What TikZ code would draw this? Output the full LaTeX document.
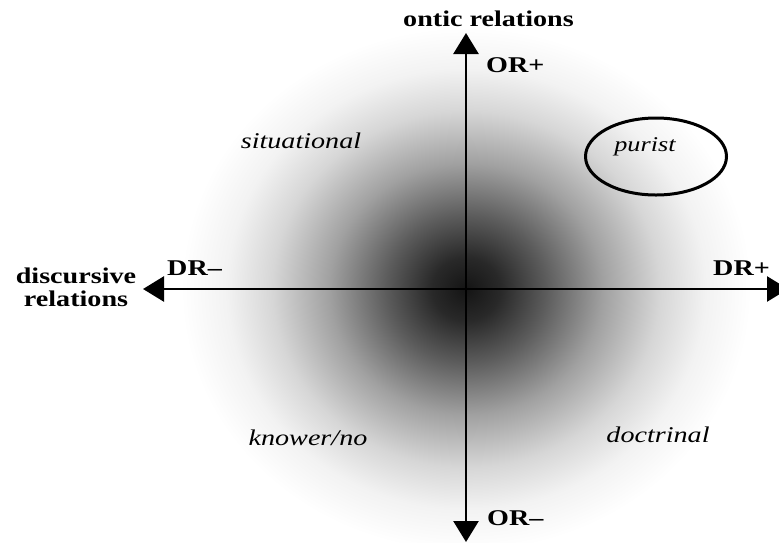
\documentclass[tikz,border=0pt]{standalone}
\usepackage{fontspec}
\setmainfont{Liberation Serif}[FakeStretch=1.25]
\usetikzlibrary{arrows.meta,positioning,shapes.geometric}
\pgfdeclareradialshading{fuzz}{\pgfpointorigin}{color(0bp)=(black!92); color(3bp)=(black!84); color(7bp)=(black!64); color(12bp)=(black!37); color(17bp)=(black!16); color(21bp)=(black!5); color(25bp)=(white); color(50bp)=(white)}

\begin{document}
\begin{tikzpicture}[
  x=1pt,y=-1pt,
  axis/.style={line width=2.7pt,{Triangle[length=21pt,width=25pt]}-{Triangle[length=21pt,width=25pt]}},
  pole/.style={font=\fontsize{22.5}{23}\selectfont\bfseries,inner sep=0pt},
  zone/.style={font=\fontsize{22.5}{24}\selectfont\itshape,inner sep=0pt},
  ring/.style={ellipse,draw,line width=3pt,minimum width=141pt,minimum height=77pt},
]
\useasboundingbox (0,0) rectangle (779,542);
\shade[shading=fuzz] (466,289) ellipse[x radius=285, y radius=262];

\coordinate (N) at (466,33);
\coordinate (S) at (466,542);
\coordinate (W) at (143,289);
\coordinate (E) at (788,289);
\draw[axis] (S) -- (N);
\draw[axis] (W) -- (E);

\node[pole,anchor=base west] (ontic) at (403,26) {ontic relations};
\node[pole,anchor=base west] (orplus) at (486,72) {OR+};
\node[pole,anchor=base west] (orminus) at (487,525) {OR–};
\node[pole,anchor=base west] (drminus) at (167,275) {DR–};
\node[pole,anchor=base west] (drplus) at (713,275) {DR+};
\node[pole,align=center] (discursive) at (76,287) {discursive\\relations};

\node[zone,anchor=base] (situational) at (301,148) {situational};
\node[zone,anchor=base,font=\fontsize{21}{22}\selectfont\itshape] (purist) at (645,151) {purist};
\node[zone,anchor=base] (knower) at (308,445) {knower/no};
\node[zone,anchor=base] (doctrinal) at (658,442) {doctrinal};
\node[ring] (puristring) at (656,156.5) {};
\end{tikzpicture}
\end{document}
